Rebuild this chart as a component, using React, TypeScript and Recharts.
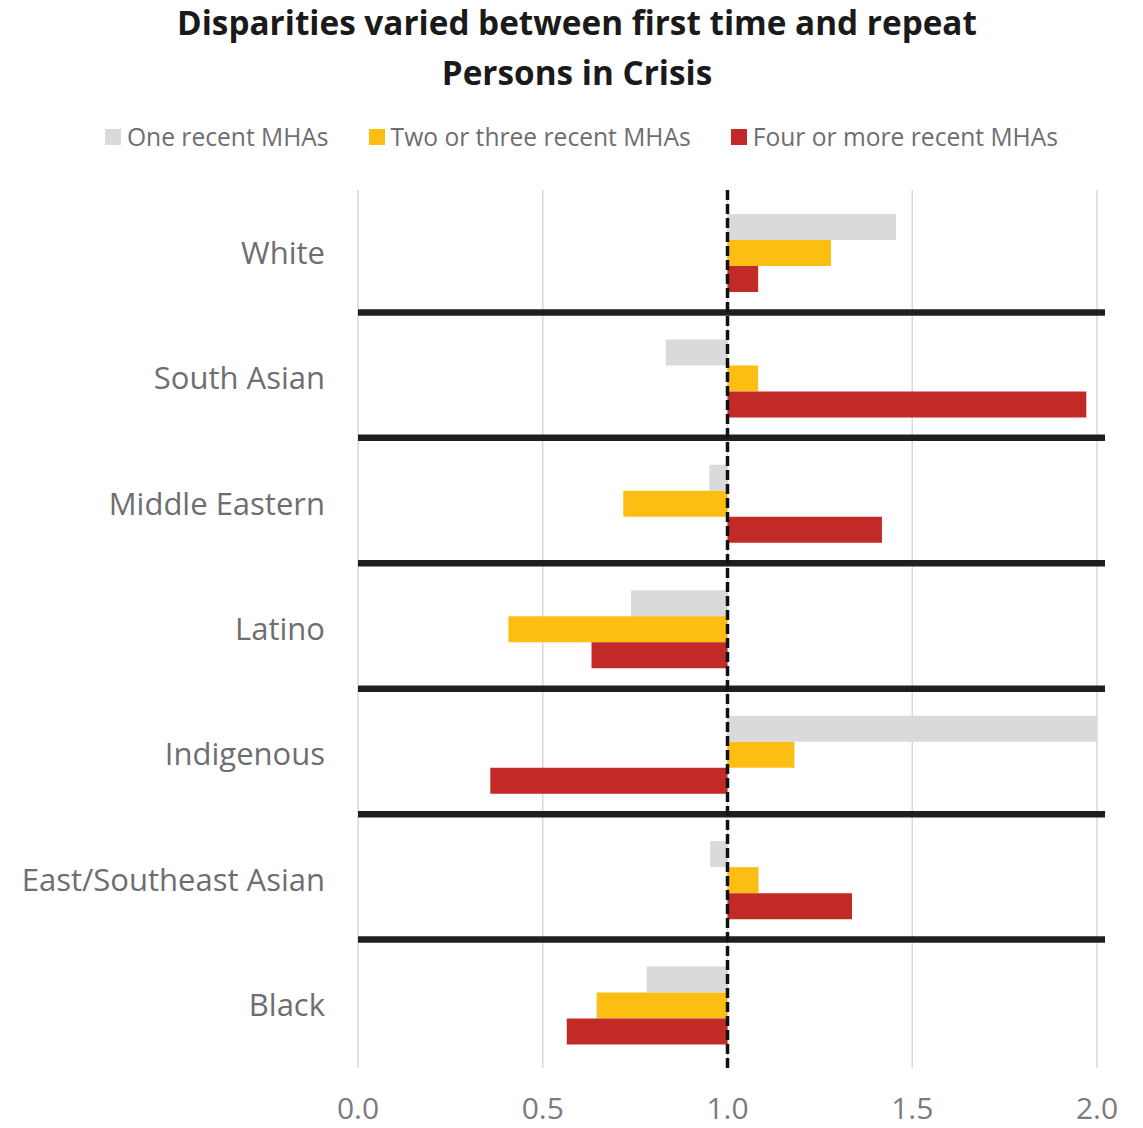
import React from "react";
import {
  BarChart,
  Bar,
  XAxis,
  YAxis,
  CartesianGrid,
  ReferenceLine,
} from "recharts";

const categories = [
  "White",
  "South Asian",
  "Middle Eastern",
  "Latino",
  "Indigenous",
  "East/Southeast Asian",
  "Black",
];
const oneRecent = [1.456, 0.833, 0.951, 0.739, 2.0, 0.953, 0.781];
const twoThreeRecent = [1.28, 1.083, 0.718, 0.407, 1.181, 1.084, 0.646];
const fourPlusRecent = [1.083, 1.971, 1.418, 0.632, 0.358, 1.337, 0.565];
const xTicks = [0, 0.5, 1.0, 1.5, 2.0];
const baseline = 1;

const seriesNames = [
  "One recent MHAs",
  "Two or three recent MHAs",
  "Four or more recent MHAs",
];
const colors = ["#d9dadc", "#fdbe14", "#c22a27"];

const span = (v: number) => [Math.min(baseline, v), Math.max(baseline, v)];

const data = categories.map((c, i) => ({
  name: c,
  one: span(oneRecent[i]),
  two: span(twoThreeRecent[i]),
  four: span(fourPlusRecent[i]),
}));

const FONT = "'Open Sans', 'Noto Sans', sans-serif";

const SepLine = (p: any) => (
  <line
    x1={p.x1}
    y1={p.y1 - 3}
    x2={p.x2 + 8}
    y2={p.y2 - 3}
    stroke="#1f1f1f"
    strokeWidth={6.5}
  />
);

export default function App() {
  return (
    <div
      style={{
        position: "absolute",
        left: 0,
        top: 0,
        width: 1143,
        height: 1128,
        background: "#fff",
      }}
    >
      <div
        style={{
          position: "absolute",
          left: 0,
          top: -3,
          width: 1154,
          textAlign: "center",
          fontFamily: FONT,
          fontWeight: 700,
          fontSize: 33.3,
          lineHeight: "50px",
          color: "#1a1a1a",
        }}
      >
        Disparities varied between first time and repeat
        <br />
        Persons in Crisis
      </div>
      <div
        style={{
          position: "absolute",
          left: 0,
          top: 120,
          width: 1163,
          display: "flex",
          justifyContent: "center",
          fontFamily: FONT,
          fontSize: 24.6,
          color: "#6d6e71",
          gap: 40,
        }}
      >
        {seriesNames.map((n, i) => (
          <div key={n} style={{ display: "flex", alignItems: "center" }}>
            <span
              style={{
                display: "inline-block",
                width: 16,
                height: 16,
                background: colors[i],
                marginRight: 6,
              }}
            />
            <span>{n}</span>
          </div>
        ))}
      </div>
      <div style={{ position: "absolute", left: 0, top: 0 }}>
        <BarChart
          width={1143}
          height={1128}
          data={data}
          layout="vertical"
          margin={{ top: 190, right: 46, bottom: 0, left: 0 }}
          barGap={0}
          barSize={26}
        >
          <CartesianGrid
            horizontal={false}
            vertical={true}
            stroke="#d9d9d9"
            strokeWidth={1.5}
          />
          <XAxis
            type="number"
            domain={[0, 2]}
            ticks={xTicks}
            tickFormatter={(v: number) => v.toFixed(1)}
            axisLine={false}
            tickLine={false}
            tick={{ fill: "#7a7b7e", fontSize: 30, fontFamily: FONT }}
            tickMargin={24}
            height={60}
          />
          <YAxis
            type="category"
            dataKey="name"
            width={358}
            axisLine={false}
            tickLine={false}
            tick={{ fill: "#6d6e71", fontSize: 31, fontFamily: FONT }}
            tickMargin={27}
          />
          <Bar dataKey="one" name={seriesNames[0]} fill={colors[0]} isAnimationActive={false} />
          <Bar dataKey="two" name={seriesNames[1]} fill={colors[1]} isAnimationActive={false} />
          <Bar dataKey="four" name={seriesNames[2]} fill={colors[2]} isAnimationActive={false} />
          {categories.slice(1).map((c) => (
            <ReferenceLine
              key={c}
              y={c}
              position="start"
              shape={SepLine}
            />
          ))}
          <ReferenceLine
            x={baseline}
            stroke="#111"
            strokeWidth={3.5}
            strokeDasharray="10 4"
          />
        </BarChart>
      </div>
    </div>
  );
}
